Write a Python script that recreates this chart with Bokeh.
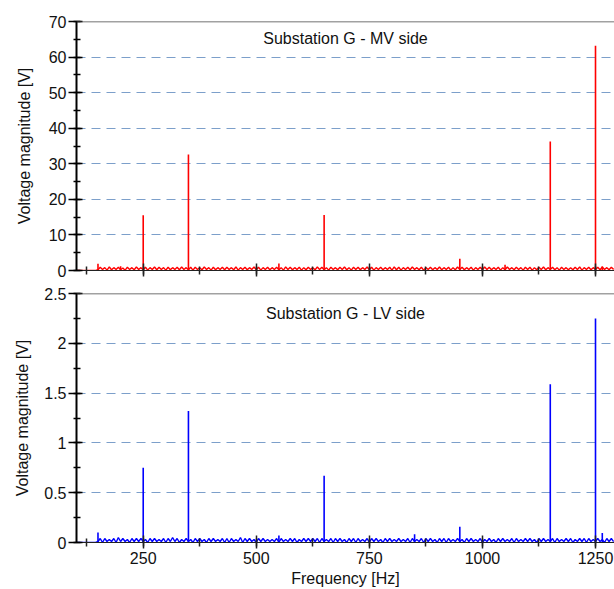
from bokeh.plotting import figure
from bokeh.layouts import column
from bokeh.models import SingleIntervalTicker, Label, Range1d, Span, CustomJSTickFormatter
from bokeh.embed import file_html
from bokeh.resources import INLINE

# ---------------- data ----------------
FREQ_START = 100      # Hz, first spectrum bin shown
FREQ_STEP = 5         # Hz, spectrum bin width of the noise floor
LOW_BINS = 10         # bins below 150 Hz carry no noise

# noise floor, MV side (tenths of a volt), bins from 150 Hz upward
MV_NOISE_TENTHS = [
    2, 9, 3, 8, 1, 10, 2, 8, 3, 9, 2, 7, 1, 9, 3, 8, 2, 10, 3,
    8, 2, 9, 1, 8, 3, 10, 2, 9, 3, 8, 1, 9, 2, 8, 3, 9, 2, 10,
    3, 8, 2, 9, 1, 9, 3, 8, 2, 10, 3, 8, 1, 9, 2, 8, 3, 9, 2,
    9, 3, 8, 2, 10, 1, 8, 3, 9, 2, 8, 3, 10, 2, 9, 1, 8, 3, 9,
    2, 8, 3, 9, 2, 8, 1, 10, 3, 9, 2, 8, 3, 9, 1, 8, 2, 9, 3,
    8, 2, 10, 3, 9, 2, 8, 1, 9, 3, 8, 2, 9, 3, 10, 2, 8, 1, 9,
    3, 9, 2, 8, 3, 10, 2, 9, 1, 8, 3, 9, 2, 8, 3, 9, 1, 10, 2,
    9, 1, 8, 3, 9, 2, 10, 3, 8, 2, 9, 1, 8, 3, 9, 2, 8, 3, 10,
    2, 8, 3, 9, 1, 8, 2, 10, 3, 9, 2, 8, 3, 9, 1, 8, 3, 9, 2,
    10, 3, 9, 2, 8, 3, 9, 1, 8, 2, 10, 3, 8, 2, 9, 3, 8, 1, 9,
    3, 9, 1, 8, 2, 9, 3, 10, 2, 8, 3, 9, 2, 8, 1, 9, 3, 8, 2,
    8, 2, 9, 3, 10, 1, 8, 3, 9, 2, 8, 3, 9, 2, 10, 3, 8, 2, 9, 3,
]

# noise floor, LV side (hundredths of a volt), bins from 150 Hz upward
LV_NOISE_HUNDREDTHS = [
    1, 4, 0, 4, 1, 3, 1, 4, 0, 5, 1, 4, 1, 3, 0, 4, 1, 4, 1,
    4, 1, 3, 0, 4, 1, 4, 1, 3, 1, 4, 0, 4, 1, 5, 1, 4, 0, 3,
    1, 4, 1, 3, 0, 4, 1, 4, 1, 3, 0, 4, 1, 4, 1, 3, 1, 4, 0,
    4, 0, 4, 1, 3, 1, 5, 0, 4, 1, 4, 1, 3, 0, 4, 1, 4, 1, 3,
    1, 3, 1, 4, 0, 4, 1, 3, 1, 4, 1, 4, 0, 3, 1, 4, 1, 4, 1,
    4, 1, 4, 0, 4, 1, 3, 1, 4, 0, 4, 1, 4, 1, 3, 0, 4, 1, 4,
    0, 4, 1, 3, 1, 4, 0, 4, 1, 4, 1, 3, 0, 4, 1, 4, 1, 3, 1,
    4, 1, 3, 1, 4, 0, 4, 1, 3, 1, 4, 0, 4, 1, 4, 1, 3, 0, 4,
    1, 4, 0, 4, 1, 3, 1, 4, 1, 3, 0, 4, 1, 4, 1, 3, 1, 4, 0,
    3, 1, 4, 1, 3, 0, 4, 1, 4, 1, 3, 1, 4, 0, 4, 1, 3, 1, 4,
    1, 4, 1, 3, 0, 4, 1, 4, 1, 3, 1, 4, 0, 4, 1, 3, 1, 4, 1,
    4, 0, 3, 1, 4, 1, 4, 0, 4, 1, 3, 1, 4, 1, 3, 0, 4, 1, 4, 1,
]

# harmonic / interharmonic lines
MV_PEAK_FREQ = [150, 200, 250, 350, 550, 650, 950, 1050, 1150, 1250, 1265]
MV_PEAK_VOLT = [1.9, 1.2, 15.5, 32.6, 2.0, 15.6, 3.3, 1.6, 36.3, 63.2, 1.1]
LV_PEAK_FREQ = [150, 250, 350, 550, 650, 850, 950, 1150, 1250, 1265]
LV_PEAK_VOLT = [0.10, 0.75, 1.32, 0.07, 0.67, 0.083, 0.157, 1.59, 2.25, 0.096]

X_TICK_STEP = 250
MV_Y_MAX, MV_Y_STEP = 70, 10
LV_Y_MAX, LV_Y_STEP = 2.5, 0.5

TITLE_MV = "Substation G - MV side"
TITLE_LV = "Substation G - LV side"
Y_LABEL = "Voltage magnitude [V]"
X_LABEL = "Frequency [Hz]"

# ---------------- styling ----------------
FONT = "Liberation Sans"
FS = "16px"
GRID_COLOR = "#5b87bd"
X_START, X_END = 102.5, 1292


def spectrum(noise, scale):
    vals = [0.0] * LOW_BINS + [v * scale for v in noise]
    xs = [FREQ_START + i * FREQ_STEP for i in range(len(vals))]
    return xs, vals


def panel(height, b_top, b_bottom, y_max, y_step, color, noise, scale,
          pk_f, pk_v, title, title_off_px, show_x, ylab_standoff):
    p = figure(width=614, height=height,
               x_range=Range1d(X_START, X_END), y_range=Range1d(0, y_max),
               output_backend="svg", toolbar_location=None,
               min_border_left=76, min_border_right=0,
               min_border_top=b_top, min_border_bottom=b_bottom,
               x_axis_label=X_LABEL if show_x else None,
               y_axis_label=Y_LABEL)
    p.outline_line_color = None
    p.background_fill_color = "white"
    p.border_fill_color = "white"

    xs, vals = spectrum(noise, scale)
    p.line(xs, vals, color=color, line_width=1.4)
    p.segment(x0=pk_f, y0=[0] * len(pk_f), x1=pk_f, y1=pk_v,
              color=color, line_width=1.6)

    # grid
    p.xgrid.grid_line_color = None
    p.ygrid.grid_line_color = GRID_COLOR
    p.ygrid.grid_line_alpha = 0.8
    p.ygrid.grid_line_dash = "9 6"
    p.ygrid.grid_line_width = 1

    # y axis
    ya = p.yaxis[0]
    ya.ticker = SingleIntervalTicker(interval=y_step, num_minor_ticks=2)
    ya.axis_line_width = 2
    ya.axis_line_color = "black"
    ya.major_tick_line_color = "black"
    ya.major_tick_line_width = 1.5
    ya.minor_tick_line_color = "black"
    ya.minor_tick_line_width = 1.5
    ya.major_tick_in = 6
    ya.major_tick_out = 8
    ya.minor_tick_in = 4
    ya.minor_tick_out = 3
    ya.major_label_standoff = 2
    ya.major_label_text_font = FONT
    ya.major_label_text_font_size = FS
    ya.major_label_text_color = "#111111"
    ya.axis_label_text_font = FONT
    ya.axis_label_text_font_size = FS
    ya.axis_label_text_font_style = "normal"
    ya.axis_label_text_color = "#111111"
    ya.axis_label_standoff = ylab_standoff

    # x axis
    xa = p.xaxis[0]
    xa.ticker = SingleIntervalTicker(interval=X_TICK_STEP, num_minor_ticks=2)
    xa.axis_line_color = "#222222"
    xa.axis_line_width = 1
    xa.major_tick_line_color = "#222222"
    xa.major_tick_line_width = 1.5
    xa.minor_tick_line_color = "#222222"
    xa.minor_tick_line_width = 1.5
    xa.major_tick_in = 7
    xa.major_tick_out = 6
    xa.minor_tick_in = 4
    xa.minor_tick_out = 4
    xa.major_label_text_font = FONT
    xa.major_label_text_color = "#111111"
    if show_x:
        xa.major_label_text_font_size = FS
        xa.major_label_standoff = 3
        xa.axis_label_text_font = FONT
        xa.axis_label_text_font_size = FS
        xa.axis_label_text_font_style = "normal"
        xa.axis_label_text_color = "#111111"
        xa.axis_label_standoff = 3
    else:
        xa.formatter = CustomJSTickFormatter(code="return ''")
        xa.major_label_standoff = 0

    # top frame line
    p.add_layout(Span(location=y_max, dimension="width",
                      line_color="#444444", line_width=1.5))

    p.add_layout(Label(x=(X_START + X_END) / 2,
                       y=y_max - title_off_px * y_max / 249.0,
                       text=title, text_align="center", text_baseline="middle",
                       text_font=FONT, text_font_size=FS, text_color="#111111"))
    return p


p1 = panel(282, 21, 12, MV_Y_MAX, MV_Y_STEP, "#ff0000", MV_NOISE_TENTHS, 0.1,
           MV_PEAK_FREQ, MV_PEAK_VOLT, TITLE_MV, 17, False, 13)
p2 = panel(307, 11, 47, LV_Y_MAX, LV_Y_STEP, "#0000ff", LV_NOISE_HUNDREDTHS, 0.01,
           LV_PEAK_FREQ, LV_PEAK_VOLT, TITLE_LV, 19.5, True, 10)

layout = column(p1, p2, spacing=0)
open("out.html", "w").write(file_html(layout, INLINE))
